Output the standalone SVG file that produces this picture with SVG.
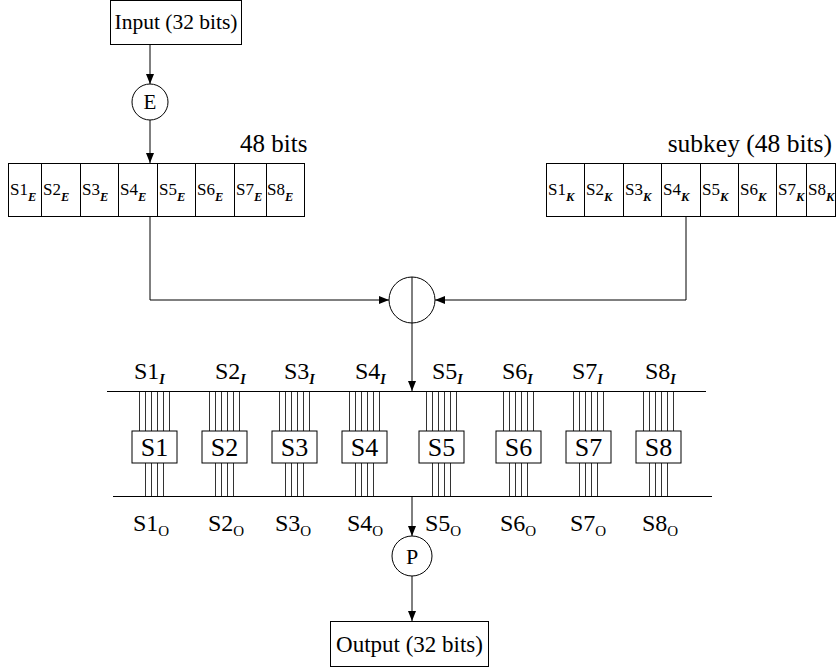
<svg xmlns="http://www.w3.org/2000/svg" width="836" height="671" viewBox="0 0 836 671">
<defs>
<marker id="arr" viewBox="0 0 10 8" refX="10" refY="4" markerWidth="10" markerHeight="8" markerUnits="userSpaceOnUse" orient="auto">
<path d="M0,0 L10,4 L0,8 Z" fill="#000"/>
</marker>
<style>
.ln{stroke:#000;stroke-width:1;fill:none}
.bx{stroke:#000;stroke-width:1;fill:#fff}
.w{stroke:#333;stroke-width:1}
.t{font-family:"Liberation Serif","Times New Roman",serif;fill:#000}
.big{font-size:24px}
.box{font-size:26px}
.reg{font-size:17px}
.sub{font-weight:bold;font-style:italic}
.sr{font-size:14px}
.rs{font-size:12.5px}
.so{font-size:15px}
</style>
</defs>
<rect width="836" height="671" fill="#fff"/>

<g id="connectors">
<line class="ln" x1="150" y1="45" x2="150" y2="84" marker-end="url(#arr)"/>
<line class="ln" x1="150" y1="120" x2="150" y2="163" marker-end="url(#arr)"/>
<polyline class="ln" points="150,216 150,300 389,300" marker-end="url(#arr)"/>
<polyline class="ln" points="686,216 686,300 435,300" marker-end="url(#arr)"/>
<line class="ln" x1="412" y1="323" x2="412" y2="391" marker-end="url(#arr)"/>
<line class="ln" x1="412" y1="496" x2="412" y2="536" marker-end="url(#arr)"/>
<line class="ln" x1="412" y1="576" x2="412" y2="621" marker-end="url(#arr)"/>
</g>

<g id="input">
<rect class="bx" x="110.5" y="0.5" width="131" height="44"/>
<text class="t" x="176" y="29" font-size="21.5" text-anchor="middle">Input (32 bits)</text>
</g>

<g id="E">
<circle class="bx" cx="150" cy="102" r="18"/>
<text class="t" x="150" y="109" font-size="21" text-anchor="middle">E</text>
</g>

<g id="expanded">
<text class="t" x="240" y="152" font-size="25">48 bits</text>
<rect class="bx" x="8.5" y="163.5" width="296" height="53"/>
<path class="ln" d="M41.5,163.5V216.5M80.5,163.5V216.5M118.5,163.5V216.5M157.5,163.5V216.5M195.5,163.5V216.5M234.5,163.5V216.5M266.5,163.5V216.5"/>
<text class="t reg" y="195"><tspan x="10">S1</tspan><tspan class="sub rs" dy="6">E</tspan></text>
<text class="t reg" y="195"><tspan x="43">S2</tspan><tspan class="sub rs" dy="6">E</tspan></text>
<text class="t reg" y="195"><tspan x="82">S3</tspan><tspan class="sub rs" dy="6">E</tspan></text>
<text class="t reg" y="195"><tspan x="120">S4</tspan><tspan class="sub rs" dy="6">E</tspan></text>
<text class="t reg" y="195"><tspan x="159">S5</tspan><tspan class="sub rs" dy="6">E</tspan></text>
<text class="t reg" y="195"><tspan x="197">S6</tspan><tspan class="sub rs" dy="6">E</tspan></text>
<text class="t reg" y="195"><tspan x="236">S7</tspan><tspan class="sub rs" dy="6">E</tspan></text>
<text class="t reg" y="195"><tspan x="267">S8</tspan><tspan class="sub rs" dy="6">E</tspan></text>
</g>

<g id="subkey">
<text class="t" x="832" y="152" font-size="25.5" text-anchor="end">subkey (48 bits)</text>
<rect class="bx" x="546.5" y="163.5" width="289" height="53"/>
<path class="ln" d="M584.5,163.5V216.5M623.5,163.5V216.5M661.5,163.5V216.5M700.5,163.5V216.5M738.5,163.5V216.5M776.5,163.5V216.5M806.5,163.5V216.5"/>
<text class="t reg" y="195"><tspan x="548">S1</tspan><tspan class="sub rs" dy="6">K</tspan></text>
<text class="t reg" y="195"><tspan x="586">S2</tspan><tspan class="sub rs" dy="6">K</tspan></text>
<text class="t reg" y="195"><tspan x="625">S3</tspan><tspan class="sub rs" dy="6">K</tspan></text>
<text class="t reg" y="195"><tspan x="663">S4</tspan><tspan class="sub rs" dy="6">K</tspan></text>
<text class="t reg" y="195"><tspan x="702">S5</tspan><tspan class="sub rs" dy="6">K</tspan></text>
<text class="t reg" y="195"><tspan x="740">S6</tspan><tspan class="sub rs" dy="6">K</tspan></text>
<text class="t reg" y="195"><tspan x="778">S7</tspan><tspan class="sub rs" dy="6">K</tspan></text>
<text class="t reg" y="195"><tspan x="808">S8</tspan><tspan class="sub rs" dy="6">K</tspan></text>
</g>

<g id="xor">
<circle class="ln" cx="412" cy="300" r="23"/>
<line class="ln" x1="412" y1="277" x2="412" y2="323"/>
</g>

<g id="bus">
<line class="ln" x1="107" y1="391.5" x2="706" y2="391.5"/>
<line class="ln" x1="113" y1="496.5" x2="712" y2="496.5"/>
</g>

<g id="inlabels" class="t big">
<text y="379"><tspan x="134">S1</tspan><tspan class="sub sr" dy="5">I</tspan></text>
<text y="379"><tspan x="215">S2</tspan><tspan class="sub sr" dy="5">I</tspan></text>
<text y="379"><tspan x="284">S3</tspan><tspan class="sub sr" dy="5">I</tspan></text>
<text y="379"><tspan x="355">S4</tspan><tspan class="sub sr" dy="5">I</tspan></text>
<text y="379"><tspan x="432">S5</tspan><tspan class="sub sr" dy="5">I</tspan></text>
<text y="379"><tspan x="502">S6</tspan><tspan class="sub sr" dy="5">I</tspan></text>
<text y="379"><tspan x="572">S7</tspan><tspan class="sub sr" dy="5">I</tspan></text>
<text y="379"><tspan x="645">S8</tspan><tspan class="sub sr" dy="5">I</tspan></text>
</g>

<g id="S1">
<path class="w" d="M139.5,392V431M145.5,392V431M151.5,392V431M157.5,392V431M163.5,392V431M169.5,392V431M145.5,463V496M151.5,463V496M157.5,463V496M163.5,463V496"/>
<rect class="bx" x="132" y="431" width="45" height="32"/>
<text class="t box" x="154.5" y="456" text-anchor="middle">S1</text>
</g>
<g id="S2">
<path class="w" d="M209.5,392V431M215.5,392V431M221.5,392V431M227.5,392V431M233.5,392V431M239.5,392V431M215.5,463V496M221.5,463V496M227.5,463V496M233.5,463V496"/>
<rect class="bx" x="202" y="431" width="45" height="32"/>
<text class="t box" x="224.5" y="456" text-anchor="middle">S2</text>
</g>
<g id="S3">
<path class="w" d="M279.5,392V431M285.5,392V431M291.5,392V431M297.5,392V431M303.5,392V431M309.5,392V431M285.5,463V496M291.5,463V496M297.5,463V496M303.5,463V496"/>
<rect class="bx" x="272" y="431" width="45" height="32"/>
<text class="t box" x="294.5" y="456" text-anchor="middle">S3</text>
</g>
<g id="S4">
<path class="w" d="M349.5,392V431M355.5,392V431M361.5,392V431M367.5,392V431M373.5,392V431M379.5,392V431M355.5,463V496M361.5,463V496M367.5,463V496M373.5,463V496"/>
<rect class="bx" x="342" y="431" width="45" height="32"/>
<text class="t box" x="364.5" y="456" text-anchor="middle">S4</text>
</g>
<g id="S5">
<path class="w" d="M426.5,392V431M432.5,392V431M438.5,392V431M444.5,392V431M450.5,392V431M456.5,392V431M432.5,463V496M438.5,463V496M444.5,463V496M450.5,463V496"/>
<rect class="bx" x="419" y="431" width="45" height="32"/>
<text class="t box" x="441.5" y="456" text-anchor="middle">S5</text>
</g>
<g id="S6">
<path class="w" d="M503.5,392V431M509.5,392V431M515.5,392V431M521.5,392V431M527.5,392V431M533.5,392V431M509.5,463V496M515.5,463V496M521.5,463V496M527.5,463V496"/>
<rect class="bx" x="496" y="431" width="45" height="32"/>
<text class="t box" x="518.5" y="456" text-anchor="middle">S6</text>
</g>
<g id="S7">
<path class="w" d="M573.5,392V431M579.5,392V431M585.5,392V431M591.5,392V431M597.5,392V431M603.5,392V431M579.5,463V496M585.5,463V496M591.5,463V496M597.5,463V496"/>
<rect class="bx" x="566" y="431" width="45" height="32"/>
<text class="t box" x="588.5" y="456" text-anchor="middle">S7</text>
</g>
<g id="S8">
<path class="w" d="M643.5,392V431M649.5,392V431M655.5,392V431M661.5,392V431M667.5,392V431M673.5,392V431M649.5,463V496M655.5,463V496M661.5,463V496M667.5,463V496"/>
<rect class="bx" x="636" y="431" width="45" height="32"/>
<text class="t box" x="658.5" y="456" text-anchor="middle">S8</text>
</g>

<g id="outlabels" class="t big">
<text y="531"><tspan x="133">S1</tspan><tspan class="so" dy="5">O</tspan></text>
<text y="531"><tspan x="208">S2</tspan><tspan class="so" dy="5">O</tspan></text>
<text y="531"><tspan x="275">S3</tspan><tspan class="so" dy="5">O</tspan></text>
<text y="531"><tspan x="347">S4</tspan><tspan class="so" dy="5">O</tspan></text>
<text y="531"><tspan x="425">S5</tspan><tspan class="so" dy="5">O</tspan></text>
<text y="531"><tspan x="500">S6</tspan><tspan class="so" dy="5">O</tspan></text>
<text y="531"><tspan x="570">S7</tspan><tspan class="so" dy="5">O</tspan></text>
<text y="531"><tspan x="642">S8</tspan><tspan class="so" dy="5">O</tspan></text>
</g>

<g id="P">
<circle class="bx" cx="412" cy="556" r="20"/>
<text class="t" x="412" y="564" font-size="22" text-anchor="middle">P</text>
</g>

<g id="output">
<rect class="bx" x="330.5" y="621.5" width="158" height="45"/>
<text class="t" x="409.5" y="652" font-size="23" text-anchor="middle">Output (32 bits)</text>
</g>
</svg>
